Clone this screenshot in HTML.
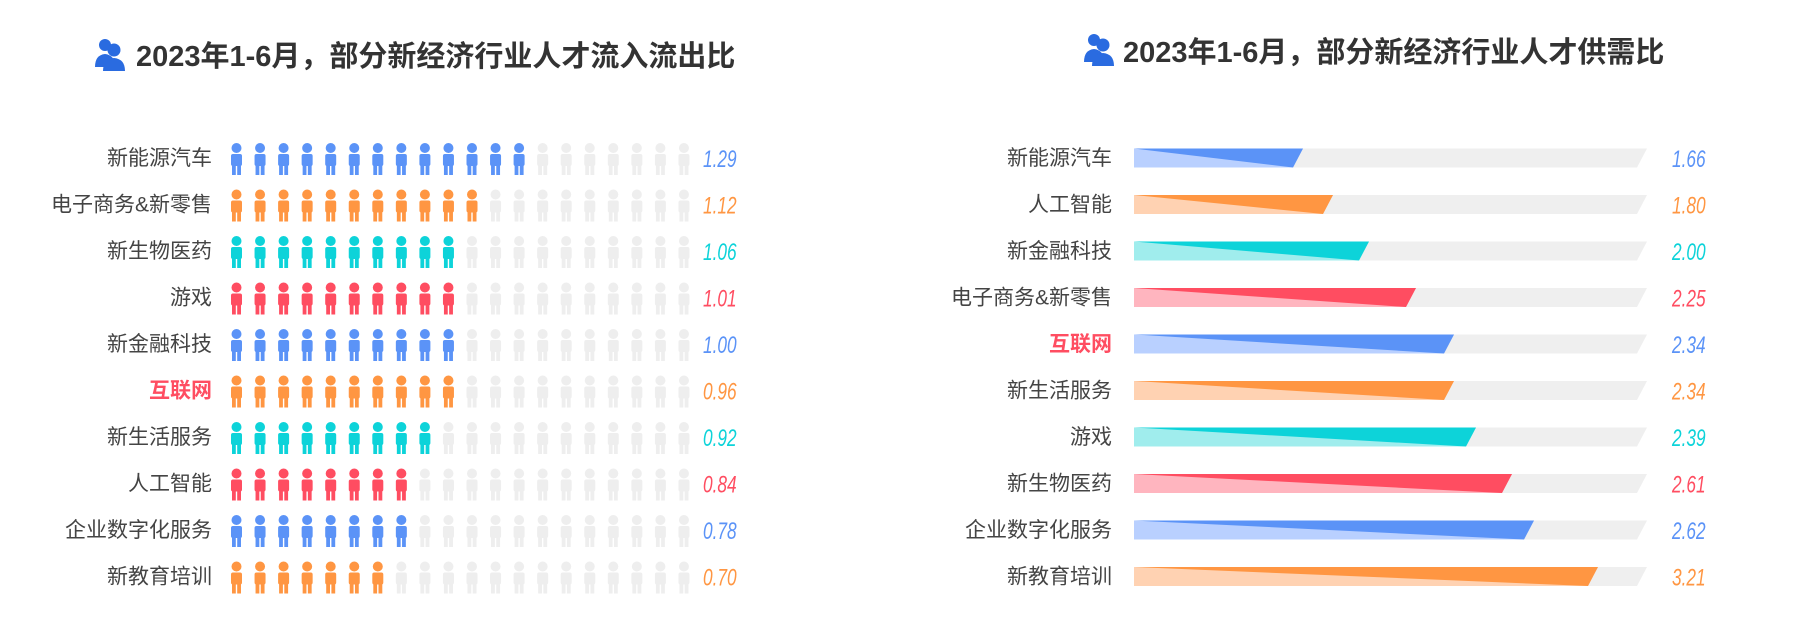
<!DOCTYPE html>
<html><head><meta charset="utf-8"><style>
html,body{margin:0;padding:0;background:#fff;width:1812px;height:637px;overflow:hidden}
svg{display:block}
.t{font-family:"Liberation Sans","Noto Sans CJK SC",sans-serif;font-weight:bold;font-size:29px;fill:#333}
.l{font-family:"Liberation Sans","Noto Sans CJK SC",sans-serif;font-size:21px;fill:#444}
.v{font-family:"Liberation Sans",sans-serif;font-style:italic;font-size:24px}
</style></head><body>
<svg width="1812" height="637" viewBox="0 0 1812 637">
<defs>
<g id="p"><circle cx="5.5" cy="5" r="5"/><rect x="0" y="11" width="11" height="12" rx="2"/><rect x="1" y="21" width="3.8" height="11"/><rect x="6.2" y="21" width="3.8" height="11"/></g>
<g id="ic"><circle cx="13" cy="8" r="6"/><path d="M3 30 Q3 18 13 17 Q23 18 23 30Z"/><circle cx="22" cy="13" r="6.5"/><path d="M11 34 Q11 22 22 21 Q33 22 33 34Z"/></g>
</defs>
<use href="#ic" x="92" y="37" fill="#2a6be0"/>
<text class="t" x="136" y="66">2023年1-6月，部分新经济行业人才流入流出比</text>
<use href="#ic" x="1081" y="32" fill="#2a6be0"/>
<text class="t" x="1123" y="62">2023年1-6月，部分新经济行业人才供需比</text>
<g id="left"></g>
<g id="right"></g>
</svg>
<script>
var ns="http://www.w3.org/2000/svg";
function el(t,a,p,txt){var e=document.createElementNS(ns,t);for(var k in a)e.setAttribute(k,a[k]);if(txt)e.textContent=txt;p.appendChild(e);return e;}
var C={b:"#5b93f7",o:"#ff9642",t:"#0dd3d9",r:"#ff4d61"},L={b:"#b9d0ff",o:"#ffd2b2",t:"#a0eded",r:"#ffb5bf"};
var left=[["新能源汽车",13,"b","1.29"],["电子商务&新零售",11,"o","1.12"],["新生物医药",10,"t","1.06"],["游戏",10,"r","1.01"],["新金融科技",10,"b","1.00"],["互联网",10,"o","0.96"],["新生活服务",9,"t","0.92"],["人工智能",8,"r","0.84"],["企业数字化服务",8,"b","0.78"],["新教育培训",7,"o","0.70"]];
var g=document.getElementById("left");
left.forEach(function(r,i){var cy=158+i*46.5;
 var lb=el("text",{class:"l",x:212,y:cy+7,"text-anchor":"end"},g,r[0]);
 if(r[0]=="互联网"){lb.setAttribute("style","fill:#ff4d61;font-weight:bold");}
 for(var j=0;j<20;j++){el("use",{href:"#p",x:231+j*23.55,y:cy-15,fill:j<r[1]?C[r[2]]:"#eeeeee"},g);}
 el("text",{class:"v",x:0,y:0,transform:"translate(703,"+(cy+9)+") scale(0.72,1)",fill:C[r[2]]},g,r[3]);
});
var right=[["新能源汽车",1303,"b","1.66"],["人工智能",1333,"o","1.80"],["新金融科技",1369,"t","2.00"],["电子商务&新零售",1416,"r","2.25"],["互联网",1454,"b","2.34"],["新生活服务",1454,"o","2.34"],["游戏",1476,"t","2.39"],["新生物医药",1512,"r","2.61"],["企业数字化服务",1534,"b","2.62"],["新教育培训",1598,"o","3.21"]];
var h=document.getElementById("right");
right.forEach(function(r,i){var cy=158+i*46.5,t=cy-9.5,b=cy+9.5,x0=1134,s=10,W=1647;
 var lb=el("text",{class:"l",x:1112,y:cy+7,"text-anchor":"end"},h,r[0]);
 if(r[0]=="互联网"){lb.setAttribute("style","fill:#ff4d61;font-weight:bold");}
 el("polygon",{points:x0+","+t+" "+W+","+t+" "+(W-s)+","+b+" "+x0+","+b,fill:"#efefef"},h);
 el("polygon",{points:x0+","+t+" "+r[1]+","+t+" "+(r[1]-s)+","+b+" "+x0+","+b,fill:L[r[2]]},h);
 el("polygon",{points:x0+","+t+" "+r[1]+","+t+" "+(r[1]-s)+","+b,fill:C[r[2]]},h);
 el("text",{class:"v",x:0,y:0,transform:"translate(1672,"+(cy+9)+") scale(0.72,1)",fill:C[r[2]]},h,r[3]);
});
</script>
</body></html>
